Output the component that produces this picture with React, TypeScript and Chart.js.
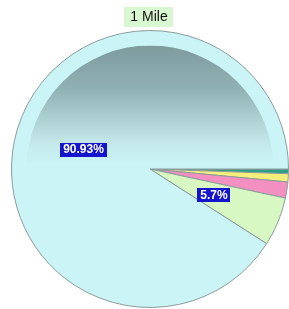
import React, { useEffect, useRef } from "react";
import { Chart, registerables } from "chart.js";

Chart.register(...registerables);

const TITLE = "1 Mile";
const CATEGORIES = ["Category E", "Category D", "Category C", "Category B", "Category A"];
const VALUES = [0.55, 0.95, 1.87, 5.7, 90.93];
const LABEL_TEXT = ["", "", "", "5.7%", "90.93%"];
const COLORS = ["#2f9e86", "#f6ef7c", "#f390c1", "#d7f7c3", "#caf4f6"];

const overlayPlugin = {
  id: "overlay",
  afterDatasetsDraw(chart: any) {
    const ctx = chart.ctx;
    const meta = chart.getDatasetMeta(0);
    const arc0 = meta.data[0];
    if (!arc0) return;
    const cx = arc0.x;
    const cy = arc0.y;
    const r = arc0.outerRadius;
    // glass shading
    const ri = r - 15;
    ctx.save();
    ctx.beginPath();
    ctx.arc(cx, cy, ri, 0, Math.PI * 2);
    ctx.clip();
    const g = ctx.createLinearGradient(0, cy - ri, 0, cy - 5);
    g.addColorStop(0, "rgba(126,155,158,1)");
    g.addColorStop(0.35, "rgba(143,176,178,1)");
    g.addColorStop(0.57, "rgba(168,202,204,1)");
    g.addColorStop(0.82, "rgba(196,232,234,1)");
    g.addColorStop(1, "rgba(202,244,246,1)");
    ctx.fillStyle = g;
    ctx.fillRect(cx - ri, cy - ri, ri * 2, ri - 5);
    ctx.restore();

    // data labels
    ctx.save();
    ctx.font = "bold 12px 'Liberation Sans', Arial, sans-serif";
    ctx.textAlign = "center";
    ctx.textBaseline = "middle";
    meta.data.forEach((arc: any, i: number) => {
      const txt = LABEL_TEXT[i];
      if (!txt) return;
      const mid = (arc.startAngle + arc.endAngle) / 2;
      const d = arc.outerRadius * 0.5;
      const x = cx + Math.cos(mid) * d;
      const y = cy + Math.sin(mid) * d;
      const w = ctx.measureText(txt).width + 6;
      const h = 14;
      ctx.fillStyle = "#1414cc";
      ctx.fillRect(Math.round(x - w / 2), Math.round(y - h / 2), Math.round(w), h);
      ctx.fillStyle = "#ffffff";
      ctx.fillText(txt, x, y + 0.5);
    });
    ctx.restore();

    // title
    ctx.save();
    ctx.font = "14px 'Liberation Sans', Arial, sans-serif";
    ctx.textAlign = "center";
    ctx.textBaseline = "middle";
    const tw = ctx.measureText(TITLE).width;
    const tx = 149;
    const ty = 17;
    ctx.fillStyle = "#d9f8d2";
    ctx.fillRect(Math.round(tx - tw / 2 - 6), 7, Math.round(tw + 12), 20);
    ctx.fillStyle = "#111111";
    ctx.fillText(TITLE, tx, ty);
    ctx.restore();
  },
};

export default function App() {
  const ref = useRef<HTMLCanvasElement | null>(null);
  useEffect(() => {
    document.body.style.margin = "0";
    const canvas = ref.current;
    if (!canvas) return;
    const chart = new Chart(canvas, {
      type: "pie",
      data: {
        labels: CATEGORIES,
        datasets: [
          {
            data: VALUES,
            backgroundColor: COLORS,
            borderColor: "#8c9c9c",
            borderWidth: 1,
          },
        ],
      },
      options: {
        responsive: false,
        animation: false,
        rotation: 90,
        layout: { padding: { top: 30, bottom: 1, left: 11, right: 0 } },
        plugins: {
          legend: { display: false },
          title: { display: false },
          tooltip: { enabled: false },
        },
      },
      plugins: [overlayPlugin],
    });
    return () => chart.destroy();
  }, []);
  return <canvas ref={ref} width={289} height={309} style={{ display: "block" }} />;
}
